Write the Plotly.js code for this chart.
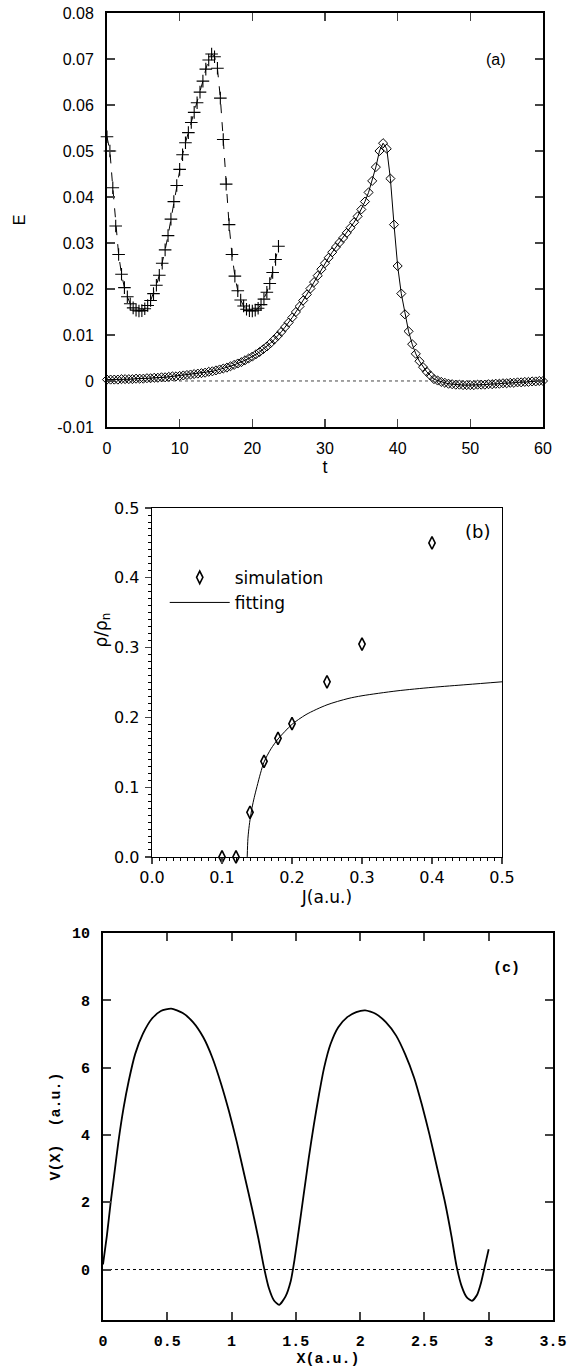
<!DOCTYPE html>
<html><head><meta charset="utf-8">
<script src="https://cdn.plot.ly/plotly-3.0.1.min.js"></script>
<style>body{margin:0;background:#fff}#chart{width:578px;height:1372px}</style>
</head><body><div id="chart"></div>
<script>
// ---- panel (a): E(t) ----
const tCross = [0,0.4,0.8,1.2,1.6,2,2.4,2.8,3.2,3.6,4,4.4,4.8,5.2,5.6,6,6.4,6.8,7.2,7.6,8,8.4,8.8,9.2,9.6,10,10.4,10.8,11.2,11.6,12,12.4,12.8,13.2,13.6,14,14.4,14.8,15.2,15.6,16,16.4,16.8,17.2,17.6,18,18.4,18.8,19.2,19.6,20,20.4,20.8,21.2,21.6,22,22.4,22.8,23.2,23.6];
const eCross = [0.0531,0.0500,0.0420,0.0337,0.0275,0.0232,0.0203,0.0183,0.0168,0.0159,
0.0154,0.0152,0.0153,0.0157,0.0164,0.0175,0.0190,0.0208,0.0230,0.0256,
0.0285,0.0316,0.0352,0.0390,0.0425,0.0460,0.0492,0.0518,0.0540,0.0562,
0.0584,0.0605,0.0628,0.0652,0.0678,0.0698,0.0711,0.0705,0.0680,0.0615,
0.0525,0.0428,0.0340,0.0275,0.0228,0.0196,0.0176,0.0163,0.0156,0.0153,
0.0152,0.0154,0.0158,0.0166,0.0178,0.0193,0.0212,0.0236,0.0264,0.0293];
const tDiamond = [0,0.5,1,1.5,2,2.5,3,3.5,4,4.5,5,5.5,6,6.5,7,7.5,8,8.5,9,9.5,10,10.5,11,11.5,12,12.5,13,13.5,14,14.5,15,15.5,16,16.5,17,17.5,18,18.5,19,19.5,20,20.5,21,21.5,22,22.5,23,23.5,24,24.5,25,25.5,26,26.5,27,27.5,28,28.5,29,29.5,30,30.5,31,31.5,32,32.5,33,33.5,34,34.5,35,35.5,36,36.5,37,37.5,38,38.5,39,39.5,40,40.5,41,41.5,42,42.5,43,43.5,44,44.5,45,45.5,46,46.5,47,47.5,48,48.5,49,49.5,50,50.5,51,51.5,52,52.5,53,53.5,54,54.5,55,55.5,56,56.5,57,57.5,58,58.5,59,59.5,60];
const eDiamond = [0.0003,0.0003,0.0003,0.0003,0.0004,0.0004,0.0004,0.0004,0.0005,0.0005,
0.0005,0.0006,0.0006,0.0007,0.0007,0.0008,0.0008,0.0009,0.0010,0.0010,
0.0011,0.0012,0.0013,0.0014,0.0015,0.0016,0.0017,0.0018,0.0020,0.0021,
0.0023,0.0025,0.0027,0.0029,0.0032,0.0035,0.0038,0.0041,0.0045,0.0049,
0.0053,0.0058,0.0063,0.0069,0.0075,0.0082,0.0090,0.0098,0.0107,0.0117,
0.0127,0.0138,0.0150,0.0162,0.0175,0.0188,0.0201,0.0215,0.0229,0.0243,
0.0256,0.0268,0.0280,0.0291,0.0301,0.0311,0.0322,0.0333,0.0345,0.0358,
0.0373,0.0390,0.0410,0.0435,0.0465,0.0500,0.0517,0.0505,0.0440,0.0340,
0.0250,0.0190,0.0145,0.0108,0.0080,0.0059,0.0043,0.0030,0.0020,0.0012,
0.0004,0.0001,-0.0002,-0.0004,-0.0006,-0.0007,-0.0008,-0.0008,-0.0009,-0.0009,
-0.0009,-0.0009,-0.0008,-0.0008,-0.0008,-0.0007,-0.0007,-0.0006,-0.0006,-0.0005,
-0.0005,-0.0004,-0.0004,-0.0003,-0.0003,-0.0002,-0.0002,-0.0001,-0.0001,0.0000,
0.0000];
const aYTicks = [-0.01,0,0.01,0.02,0.03,0.04,0.05,0.06,0.07,0.08];
const aYLabels = ['-0.01','0','0.01','0.02','0.03','0.04','0.05','0.06','0.07','0.08'];

// ---- panel (b): rho/rho_n vs J ----
const jSim = [0.10,0.12,0.14,0.16,0.18,0.20,0.25,0.30,0.40];
const rhoSim = [0.0,0.0,0.064,0.137,0.170,0.191,0.251,0.305,0.450];
const jFit = [0.136,0.137,0.138,0.140,0.143,0.146,0.150,0.155,0.160,0.170,0.180,0.190,0.200,0.220,0.250,0.280,0.300,0.350,0.400,0.450,0.500];
const rhoFit = [0.000,0.026,0.037,0.053,0.071,0.085,0.101,0.120,0.136,0.155,0.169,0.180,0.190,0.204,0.218,0.227,0.231,0.238,0.243,0.247,0.251];

// ---- panel (c): V(X) ----
const xPot = [0,0.03,0.06,0.09,0.12,0.16,0.20,0.25,0.31,0.38,0.45,0.53,0.62,0.70,0.78,0.85,0.92,0.98,1.04,1.10,1.16,1.21,1.25,1.29,1.33,1.37,1.42,1.46,1.49,1.52,1.56,1.60,1.64,1.68,1.72,1.77,1.83,1.90,1.97,2.04,2.12,2.20,2.28,2.35,2.42,2.48,2.54,2.60,2.66,2.71,2.75,2.79,2.83,2.87,2.91,2.94,2.97,3.00];
const vPot = [0.15,1.0,2.0,2.9,3.8,4.8,5.6,6.4,7.0,7.45,7.68,7.75,7.62,7.35,6.9,6.3,5.5,4.7,3.8,2.8,1.8,0.9,0.1,-0.55,-0.92,-1.05,-0.8,-0.35,0.3,1.1,2.2,3.3,4.3,5.2,6.0,6.7,7.2,7.5,7.65,7.7,7.6,7.35,6.95,6.4,5.7,4.9,4.0,3.0,2.0,1.0,0.1,-0.5,-0.83,-0.93,-0.75,-0.4,0.1,0.6];

const SANS = 'Liberation Sans, Arial, sans-serif';
const ROUND = 'DejaVu Sans, sans-serif';
const MONO = 'Liberation Mono, Courier New, monospace';

const traces = [
  {x:tCross, y:eCross, xaxis:'x', yaxis:'y', mode:'lines+markers', showlegend:false, cliponaxis:false,
   line:{color:'black', width:1, dash:'dash'},
   marker:{symbol:'cross-thin-open', size:9, color:'black', line:{width:1.1, color:'black'}}},
  {x:tDiamond, y:eDiamond, xaxis:'x', yaxis:'y', mode:'lines+markers', showlegend:false, cliponaxis:false,
   line:{color:'black', width:1},
   marker:{symbol:'diamond-open', size:7, color:'black', line:{width:1, color:'black'}}},
  {x:jSim, y:rhoSim, xaxis:'x2', yaxis:'y2', mode:'markers', name:'simulation', cliponaxis:false,
   marker:{symbol:'diamond-tall-open', size:9, color:'black', line:{width:1.6, color:'black'}}},
  {x:jFit, y:rhoFit, xaxis:'x2', yaxis:'y2', mode:'lines', name:'fitting',
   line:{color:'black', width:1, shape:'spline', smoothing:0.8}},
  {x:xPot, y:vPot, xaxis:'x3', yaxis:'y3', mode:'lines', showlegend:false,
   line:{color:'black', width:1.8, shape:'spline', smoothing:0.6}}
];

const layout = {
  width:578, height:1372, margin:{l:0,r:0,t:0,b:0},
  paper_bgcolor:'white', plot_bgcolor:'white', showlegend:true,
  xaxis:{domain:[0.1851,0.9394], anchor:'y', range:[0,60], dtick:10, ticks:'inside', ticklen:8, tickwidth:1.5,
    showline:true, linewidth:2, linecolor:'black', mirror:'ticks', showgrid:false, zeroline:false,
    tickfont:{family:SANS, size:16, color:'black'}, ticklabelstandoff:6,
    title:{text:'t', font:{family:SANS, size:18, color:'black'}, standoff:2}},
  yaxis:{domain:[0.6888,0.9905], anchor:'x', range:[-0.01,0.08], tickvals:aYTicks, ticktext:aYLabels,
    ticks:'inside', ticklen:8, tickwidth:1.5, showline:true, linewidth:2, linecolor:'black', mirror:'ticks',
    showgrid:false, zeroline:false, tickfont:{family:SANS, size:16, color:'black'}, ticklabelstandoff:8,
    title:{text:'E', font:{family:SANS, size:16, color:'black'}, standoff:28}},
  xaxis2:{domain:[0.2630,0.8685], anchor:'y2', range:[0,0.5], dtick:0.1, tickformat:'.1f', ticks:'outside', ticklen:6,
    tickwidth:1.2, showline:true, linewidth:1.3, linecolor:'black', mirror:true, showgrid:false, zeroline:false,
    minor:{dtick:0.01, ticks:'outside', ticklen:3, tickwidth:1, tickcolor:'black', showgrid:false},
    tickfont:{family:ROUND, size:16, color:'black'}, ticklabelstandoff:0,
    title:{text:'J(a.u.)', font:{family:ROUND, size:17, color:'black'}, standoff:0}},
  yaxis2:{domain:[0.3754,0.6297], anchor:'x2', range:[0,0.5], dtick:0.1, tickformat:'.1f', ticks:'outside', ticklen:6,
    tickwidth:1.2, showline:true, linewidth:1.3, linecolor:'black', mirror:true, showgrid:false, zeroline:false,
    minor:{dtick:0.01, ticks:'outside', ticklen:3, tickwidth:1, tickcolor:'black', showgrid:false},
    tickfont:{family:ROUND, size:16, color:'black'}, ticklabelstandoff:2},
  xaxis3:{domain:[0.1782,0.9567], anchor:'y3', range:[0,3.5], dtick:0.5, ticks:'inside', ticklen:8, tickwidth:2,
    showline:true, linewidth:2, linecolor:'black', mirror:'ticks', showgrid:false, zeroline:false,
    tickfont:{family:MONO, size:15, color:'black', weight:'bold'}, ticklabelstandoff:6,
    title:{text:'X(a.u.)', font:{family:MONO, size:15, color:'black', weight:'bold'}, standoff:0}},
  yaxis3:{domain:[0.0379,0.3200], anchor:'x3', range:[-1.5,10], tickvals:[0,2,4,6,8,10], ticks:'inside', ticklen:8, tickwidth:2,
    showline:true, linewidth:2, linecolor:'black', mirror:'ticks', showgrid:false, zeroline:false,
    tickfont:{family:MONO, size:15, color:'black', weight:'bold'}, ticklabelstandoff:8,
    title:{text:'V(X)  (a.u.)', font:{family:MONO, size:15, color:'black', weight:'bold'}, standoff:8}},
  legend:{x:0.285, y:0.592, xanchor:'left', yanchor:'top', bgcolor:'rgba(0,0,0,0)', itemwidth:60,
    font:{family:ROUND, size:17, color:'black'}, tracegroupgap:0},
  shapes:[
    {type:'line', xref:'x', yref:'y', x0:0, x1:60, y0:0, y1:0, line:{color:'#444', width:1, dash:'dot'}, layer:'below'},
    {type:'line', xref:'x3', yref:'y3', x0:0, x1:3.5, y0:0, y1:0, line:{color:'black', width:1, dash:'dot'}, layer:'below'}
  ],
  annotations:[
    {xref:'x', yref:'y', x:53.6, y:0.07, text:'(a)', showarrow:false, font:{family:SANS, size:16, color:'black'}},
    {xref:'x2', yref:'y2', x:0.465, y:0.467, text:'(b)', showarrow:false, font:{family:ROUND, size:18, color:'black'}},
    {xref:'x3', yref:'y3', x:3.14, y:8.94, text:'(c)', showarrow:false, font:{family:MONO, size:15, color:'black', weight:'bold'}},
    {xref:'paper', yref:'paper', x:89/578, y:1-630/1372, text:'ρ/ρ<sub>n</sub>', textangle:-90, showarrow:false,
     font:{family:ROUND, size:17, color:'black'}}
  ]
};
Plotly.newPlot('chart', traces, layout, {staticPlot:true, displayModeBar:false});
</script>
</body></html>
